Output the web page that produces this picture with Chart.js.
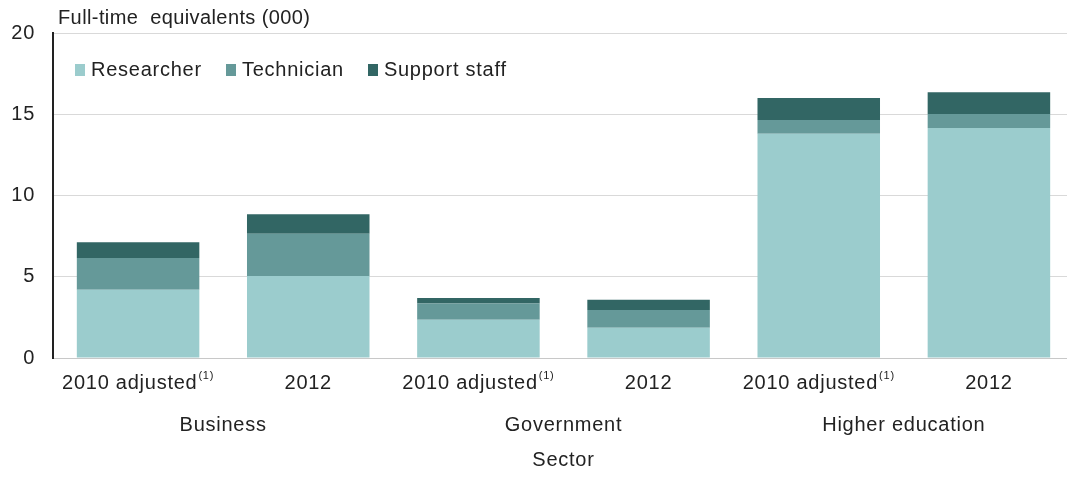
<!DOCTYPE html>
<html>
<head>
<meta charset="utf-8">
<script src="https://cdn.jsdelivr.net/npm/chart.js@4.4.1/dist/chart.umd.min.js"></script>
<style>
  html, body { margin: 0; padding: 0; background: #fff; }
  #wrap { position: relative; width: 1067px; height: 479px; overflow: hidden; }
  #legend { position: absolute; left: 75px; top: 58px; display: flex; font: 20px "Liberation Sans", Arial, sans-serif; letter-spacing: 0.75px; color: #222; }
  #legend .item { display: flex; align-items: center; margin-right: 24px; }
  #legend .box { width: 10px; height: 12px; margin-right: 6px; }
</style>
</head>
<body>
<div id="wrap">
  <canvas id="c" width="1074" height="479"></canvas>
  <div id="legend"></div>
</div>
<script>
// Staff by sector and year, full-time equivalents (thousands)
const categories = ['2010 adjusted', '2012', '2010 adjusted', '2012', '2010 adjusted', '2012'];
const categoryNotes = ['(1)', '', '(1)', '', '(1)', ''];
const sectors = ['Business', 'Government', 'Higher education'];
const researcher = [4.2, 5.05, 2.35, 1.86, 13.8, 14.15];
const technician = [1.95, 2.6, 1.0, 1.1, 0.84, 0.86];
const supportStaff = [0.98, 1.2, 0.35, 0.62, 1.36, 1.35];
const yTicks = [0, 5, 10, 15, 20];

const colors = { researcher: '#9bcccd', technician: '#659999', support: '#326664' };
const FAMILY = '"Liberation Sans", Arial, sans-serif';
const font = { family: FAMILY, size: 20 };
const TEXT = '#222';
const SPACING = '0.75px';

// Slightly open letter spacing for all canvas text
const spacing = {
  id: 'spacing',
  beforeLayout(chart) { chart.ctx.letterSpacing = SPACING; },
  beforeDraw(chart) { chart.ctx.letterSpacing = SPACING; }
};

// Axis caption above the value axis, and category labels with raised note markers
const textLayer = {
  id: 'textLayer',
  afterDraw(chart) {
    const { ctx, chartArea } = chart;
    ctx.save();
    ctx.fillStyle = TEXT;
    ctx.font = '20px ' + FAMILY;
    ctx.letterSpacing = '0.4px';
    ctx.textBaseline = 'alphabetic';
    ctx.textAlign = 'left';
    ctx.fillText('Full-time  equivalents (000)', chartArea.left + 5, chartArea.top - 9);

    ctx.letterSpacing = SPACING;
    const xs = chart.scales.x;
    const y = xs.top + xs.options.ticks.padding + 10;
    categories.forEach((label, i) => {
      const cx = xs.getPixelForValue(i);
      ctx.font = '20px ' + FAMILY;
      const w1 = ctx.measureText(label).width;
      ctx.font = '11px ' + FAMILY;
      const note = categoryNotes[i];
      const w2 = note ? ctx.measureText(note).width + 1 : 0;
      const start = cx - (w1 + w2) / 2;
      ctx.textBaseline = 'middle';
      ctx.font = '20px ' + FAMILY;
      ctx.fillText(label, start, y);
      if (note) {
        ctx.font = '11px ' + FAMILY;
        ctx.fillText(note, start + w1 + 1, y - 7);
      }
    });
    ctx.restore();
  }
};

const chart = new Chart(document.getElementById('c'), {
  type: 'bar',
  data: {
    labels: categories,
    datasets: [
      { label: 'Researcher', data: researcher, backgroundColor: colors.researcher },
      { label: 'Technician', data: technician, backgroundColor: colors.technician },
      { label: 'Support staff', data: supportStaff, backgroundColor: colors.support }
    ]
  },
  options: {
    responsive: false,
    animation: false,
    layout: { padding: { top: 33, left: 0, right: 0, bottom: 7 } },
    datasets: { bar: { categoryPercentage: 1.0, barPercentage: 0.72 } },
    plugins: { legend: { display: false }, tooltip: { enabled: false } },
    scales: {
      x: {
        stacked: true,
        grid: { display: false, drawTicks: false },
        border: { display: true, color: '#c8c8c8', width: 1 },
        ticks: { color: 'rgba(0,0,0,0)', font, padding: 15, maxRotation: 0, autoSkip: false }
      },
      x2: {
        type: 'category',
        labels: sectors,
        position: 'bottom',
        offset: true,
        grid: { display: false, drawTicks: false },
        border: { display: false },
        ticks: { color: TEXT, font, padding: 1 },
        title: { display: true, text: 'Sector', color: TEXT, font, padding: { top: 10, bottom: 0 } }
      },
      y: {
        stacked: true,
        min: 0,
        max: 20,
        afterBuildTicks(axis) { axis.ticks = yTicks.map(v => ({ value: v })); },
        afterFit(axis) { axis.width = 53; },
        grid: { color: '#d9d9d9', lineWidth: 1, drawTicks: false },
        border: { display: true, color: '#222', width: 2 },
        ticks: { color: TEXT, font, padding: 18 }
      }
    }
  },
  plugins: [spacing, textLayer]
});

// Legend overlay inside the plot
const legendEl = document.getElementById('legend');
chart.data.datasets.forEach(ds => {
  const item = document.createElement('div');
  item.className = 'item';
  const box = document.createElement('span');
  box.className = 'box';
  box.style.background = ds.backgroundColor;
  const txt = document.createElement('span');
  txt.textContent = ds.label;
  item.appendChild(box);
  item.appendChild(txt);
  legendEl.appendChild(item);
});
</script>
</body>
</html>
